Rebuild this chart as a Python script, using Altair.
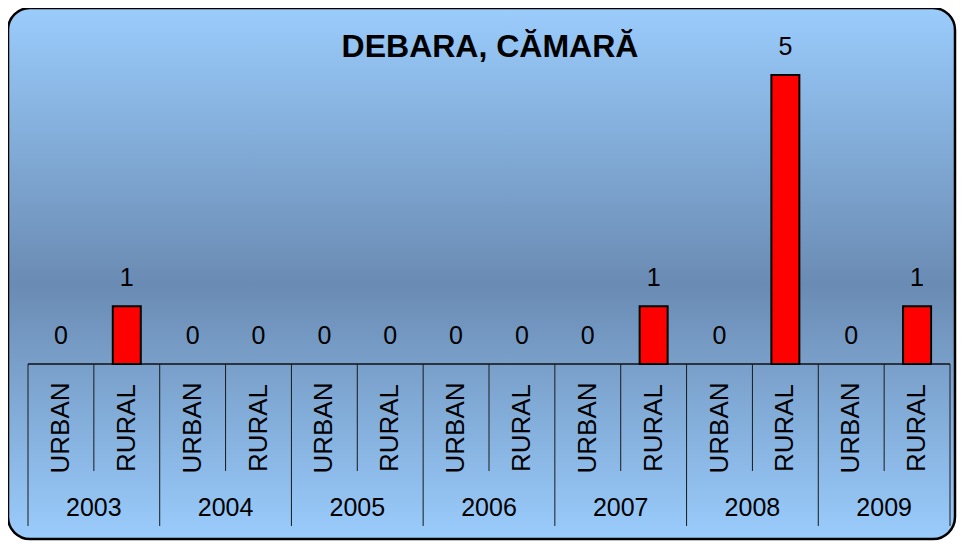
import altair as alt
import pandas as pd

years = ["2003", "2004", "2005", "2006", "2007", "2008", "2009"]
groups = ["URBAN", "RURAL"]
urban = [0, 0, 0, 0, 0, 0, 0]
rural = [1, 0, 0, 0, 1, 5, 1]
title_text = "DEBARA, CĂMARĂ"

rows = []
for i, yr in enumerate(years):
    rows.append({"key": f"{yr} URBAN", "year": yr, "group": "URBAN", "value": urban[i]})
    rows.append({"key": f"{yr} RURAL", "year": yr, "group": "RURAL", "value": rural[i]})
df = pd.DataFrame(rows)
order = list(df["key"])

W, H = 922, 289
FONT = "Liberation Sans"

xscale = alt.Scale(domain=order, paddingInner=0, paddingOuter=0)


def xenc(bp=None):
    if bp is None:
        return alt.X("key:N", sort=order, scale=xscale, axis=None)
    return alt.X("key:N", sort=order, scale=xscale, axis=None, bandPosition=bp)


yenc = alt.Y("value:Q", scale=alt.Scale(domain=[0, 5], nice=False, zero=True), axis=None)

one = pd.DataFrame({"a": [0]})

grad = alt.Gradient(
    gradient="linear",
    stops=[
        alt.GradientStop(color="#9ACCFC", offset=0),
        alt.GradientStop(color="#6A8BB3", offset=0.52),
        alt.GradientStop(color="#9ACCFC", offset=1),
    ],
    x1=0, x2=0, y1=0, y2=1,
)

bg = alt.Chart(one).mark_rect(
    cornerRadius=22, stroke="black", strokeWidth=2.5, fill=grad
).encode(
    x=alt.value(-20), x2=alt.value(927), y=alt.value(-67), y2=alt.value(464)
)

base = alt.Chart(df)

bars = base.transform_filter("datum.value > 0").mark_bar(
    size=28, color="#FF0000", stroke="black", strokeWidth=2
).encode(x=xenc(), y=yenc)

labels = base.mark_text(
    dy=-28, fontSize=25, font=FONT, color="black", baseline="middle"
).encode(x=xenc(), y=yenc, text="value:Q")

group_labels = base.mark_text(
    angle=270, fontSize=26, font=FONT, color="black", align="center", baseline="middle"
).encode(x=xenc(), y=alt.value(H + 64), text="group:N")

year_labels = base.transform_filter("datum.group == 'RURAL'").mark_text(
    fontSize=25, font=FONT, color="black", align="center", baseline="middle"
).encode(x=xenc(0), y=alt.value(H + 144), text="year:N")

long_div = base.transform_filter("datum.group == 'URBAN'").mark_rule(
    color="#1a1a1a", strokeWidth=1
).encode(x=xenc(0), y=alt.value(H), y2=alt.value(H + 162))

short_div = base.transform_filter("datum.group == 'RURAL'").mark_rule(
    color="#1a1a1a", strokeWidth=1
).encode(x=xenc(0), y=alt.value(H), y2=alt.value(H + 107))

end_div = base.transform_filter("datum.key == '2009 RURAL'").mark_rule(
    color="#1a1a1a", strokeWidth=1
).encode(x=xenc(1), y=alt.value(H), y2=alt.value(H + 162))

baseline = alt.Chart(one).mark_rule(color="#111111", strokeWidth=1.5).encode(
    x=alt.value(0), x2=alt.value(W), y=alt.value(H)
)

title = alt.Chart(one).mark_text(
    fontSize=32, fontWeight="bold", font=FONT, color="black", align="center", baseline="middle"
).encode(x=alt.value(W / 2 + 1), y=alt.value(-28), text=alt.value(title_text))

chart = alt.layer(
    bg, baseline, long_div, short_div, end_div, bars, labels, group_labels, year_labels, title
).properties(
    width=W,
    height=H,
    padding={"left": 20, "top": 67, "right": 8, "bottom": 177},
    autosize=alt.AutoSizeParams(type="none"),
    background="white",
).configure_view(stroke=None)

chart.save("out.html", embed_options={"renderer": "svg", "actions": False})
